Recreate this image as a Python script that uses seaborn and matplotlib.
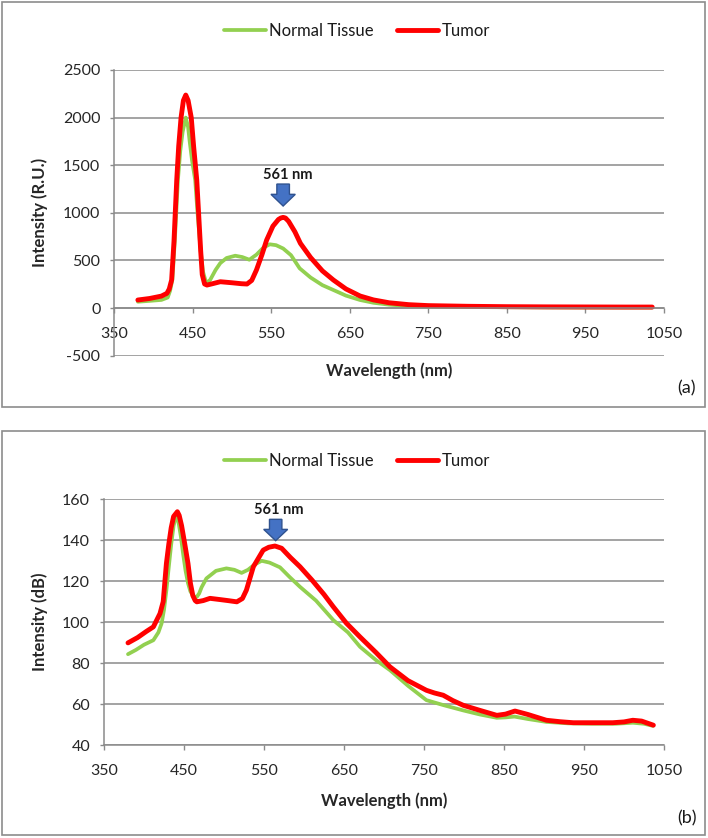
#!/usr/bin/env python3
"""
Recreate the two-panel fluorescence spectrum figure (linear and dB intensity)
"""

import matplotlib
matplotlib.use("Agg")
import matplotlib.pyplot as plt
from matplotlib.patches import Rectangle, FancyArrow
import seaborn as sns

# ---- data ----
SERIES_NAMES = ["Normal Tissue", "Tumor"]
PEAK_LABEL = "561 nm"

# panel (a): intensity in relative units
normal_a_wl = [380, 395, 410, 418, 421, 424, 427, 431, 434, 437, 441, 444, 446, 449,
               453, 456, 460, 463, 467, 472, 479, 485, 493, 504, 513, 522, 531, 540,
               548, 556, 565, 575, 586, 600, 615, 629, 645, 663, 680, 700, 725, 750,
               800, 850, 900, 950, 1000, 1035]
normal_a_val = [66, 75, 85, 110, 180, 300, 700, 1345, 1650, 1850, 2000, 1900, 1750, 1550,
                1345, 1000, 600, 380, 262, 294, 400, 472, 525, 549, 535, 507, 560, 635,
                669, 660, 625, 555, 417, 320, 240, 189, 130, 84, 55, 35, 22, 15,
                10, 8, 6, 5, 5, 5]

tumor_a_wl = [380, 395, 410, 417, 420, 423, 426, 429.5, 432, 435, 438, 441, 444, 448,
              451, 455, 458, 460, 462, 465, 468, 475, 485, 500, 512, 519, 525, 531,
              538, 544, 552, 559, 562, 565, 568, 572, 580, 587, 600, 615, 629, 645,
              663, 680, 700, 725, 750, 800, 850, 900, 950, 1000, 1035]
tumor_a_val = [84, 100, 125, 154, 200, 294, 700, 1345, 1700, 2000, 2180, 2237, 2180, 2000,
               1700, 1345, 900, 600, 350, 252, 241, 255, 276, 265, 255, 252, 290, 399,
               560, 714, 860, 930, 945, 952, 945, 910, 800, 679, 530, 390, 294, 200,
               126, 85, 55, 35, 25, 18, 14, 12, 11, 10, 10]

# panel (b): intensity in dB
normal_b_wl = [380, 390, 400, 411.7, 418, 422, 425, 428, 431, 434, 437, 440, 443, 446,
               449, 452, 455, 458, 462, 466, 469, 472, 478, 490, 503, 513, 522, 530,
               538, 547, 557, 570, 582, 595, 615, 636.6, 655, 670, 690, 707.5, 730, 753,
               775, 799, 820, 841, 852, 863, 880, 903, 930, 960, 990, 1011, 1025, 1036]
normal_b_val = [84.4, 86.5, 89, 91.2, 95, 99.4, 106, 115.6, 127, 138, 147, 151.5, 149, 142,
                133, 125, 119, 115, 112.5, 112.3, 114, 117, 121.3, 125, 126.2, 125.5, 124, 125.5,
                128, 129.9, 129, 126.7, 122, 117.2, 110.5, 101, 95, 88, 81.5, 76.6, 69, 62,
                59.5, 57, 55, 53.4, 53.6, 54, 52.8, 51.4, 50.7, 50.5, 50.5, 51, 50.5, 49.5]

tumor_b_wl = [380, 392, 403, 411.7, 420, 424, 428, 431, 434, 437, 441.7, 444, 447, 451,
              455, 458, 461, 464, 466, 474, 482.5, 495, 505, 516, 523, 528, 536.7, 549,
              556, 563.7, 572, 583, 595, 610, 625, 636.6, 653, 670, 690, 707.5, 730, 753,
              763, 774, 786, 799, 820, 841, 852, 863.7, 880, 903, 920, 936.6, 960, 986,
              1000, 1011, 1022, 1036.7]
tumor_b_val = [89.9, 92.5, 95.5, 97.7, 104.2, 110, 128.6, 138, 146, 151.5, 153.8, 152, 147, 138,
               128.6, 119, 113, 110.5, 109.9, 110.5, 111.6, 111, 110.5, 109.9, 111.5, 115.6, 127, 135.1,
               136.5, 137.1, 136, 131.5, 127, 120.5, 113.5, 107.5, 99.5, 92.8, 85.2, 78.2, 71.5, 66.8,
               65.5, 64.4, 61.8, 59.5, 57, 54.6, 55.2, 56.7, 55, 52.2, 51.5, 51, 51, 51,
               51.4, 52.2, 51.8, 49.8]

x_ticks = [350, 450, 550, 650, 750, 850, 950, 1050]
y_ticks_a = [-500, 0, 500, 1000, 1500, 2000, 2500]
y_ticks_b = [40, 60, 80, 100, 120, 140, 160]

GREEN = "#92D050"
RED = "#FF0000"
GRID = "#8A8A8A"
ARROW_FACE = "#4472C4"
ARROW_EDGE = "#2F528F"

sns.set_style("white")
plt.rcParams["font.family"] = ["Lato", "DejaVu Sans"]
plt.rcParams["text.color"] = "#1a1a1a"
plt.rcParams["axes.unicode_minus"] = False

W, H = 708, 838
fig = plt.figure(figsize=(W / 100, H / 100), dpi=100)


def px(x0, y0, x1, y1):
    """pixel box (top-left origin) -> figure fraction rect"""
    return [x0 / W, 1 - y1 / H, (x1 - x0) / W, (y1 - y0) / H]


def style_axes(ax, yticks, xaxis_at):
    ax.set_xlim(350, 1050)
    ax.set_ylim(yticks[0], yticks[-1])
    ax.set_xticks(x_ticks)
    ax.set_yticks(yticks)
    for s in ["top", "right"]:
        ax.spines[s].set_visible(False)
    ax.spines["left"].set_color(GRID)
    ax.spines["left"].set_linewidth(1.1)
    ax.spines["bottom"].set_color(GRID)
    ax.spines["bottom"].set_linewidth(1.1)
    ax.spines["bottom"].set_position(("data", xaxis_at))
    ax.yaxis.grid(True, color=GRID, lw=1.1)
    ax.set_axisbelow(True)
    ax.tick_params(axis="x", direction="out", length=3.5, width=1, color=GRID,
                   labelsize=11.5, pad=10, bottom=True)
    ax.tick_params(axis="y", direction="out", length=3, width=1, color=GRID,
                   labelsize=11.5, pad=7, left=True)


def draw_panel(ax, g_wl, g_val, r_wl, r_val, yticks, xaxis_at):
    line_kw = dict(solid_joinstyle="round", solid_capstyle="round")
    sns.lineplot(x=g_wl, y=g_val, ax=ax, color=GREEN, lw=2.7, label=SERIES_NAMES[0], **line_kw)
    sns.lineplot(x=r_wl, y=r_val, ax=ax, color=RED, lw=3.5, label=SERIES_NAMES[1], **line_kw)
    style_axes(ax, yticks, xaxis_at)
    handles, labels = ax.get_legend_handles_labels()
    ax.get_legend().remove()
    return handles, labels


# ---- panel (a) ----
ax1 = fig.add_axes(px(114.3, 70, 664, 355.6))
h, l = draw_panel(ax1, normal_a_wl, normal_a_val, tumor_a_wl, tumor_a_val, y_ticks_a, 0)
ax1.set_ylabel("Intensity (R.U.)", fontsize=12, fontweight="bold")
ax1.set_xlabel("Wavelength (nm)", fontsize=12, fontweight="bold")
ax1.yaxis.set_label_coords(-0.12, 0.5)
ax1.xaxis.set_label_coords(0.5, -0.025)
ax1.add_patch(FancyArrow(565, 1302, 0, -231, width=16, head_width=31, head_length=123,
                         length_includes_head=True, facecolor=ARROW_FACE,
                         edgecolor=ARROW_EDGE, lw=1, zorder=5))
ax1.text(571, 1393, PEAK_LABEL, ha="center", va="center", fontsize=10.5, fontweight="bold")
fig.legend(h, l, loc="center", bbox_to_anchor=(357 / W, 1 - 31 / H), ncol=2, frameon=False,
           fontsize=12, handlelength=2.5, handletextpad=0.2, columnspacing=1.4)
fig.text(687 / W, 1 - 388 / H, "(a)", ha="center", va="center", fontsize=13)

# ---- panel (b) ----
ax2 = fig.add_axes(px(104, 499, 664, 745.3))
h, l = draw_panel(ax2, normal_b_wl, normal_b_val, tumor_b_wl, tumor_b_val, y_ticks_b, 40)
ax2.set_ylabel("Intensity (dB)", fontsize=12, fontweight="bold")
ax2.set_xlabel("Wavelength (nm)", fontsize=12, fontweight="bold")
ax2.yaxis.set_label_coords(-0.1, 0.5)
ax2.xaxis.set_label_coords(0.5, -0.19)
ax2.add_patch(FancyArrow(564.6, 150.1, 0, -10.4, width=15.5, head_width=30, head_length=5.5,
                         length_includes_head=True, facecolor=ARROW_FACE,
                         edgecolor=ARROW_EDGE, lw=1, zorder=5))
ax2.text(568.75, 154.4, PEAK_LABEL, ha="center", va="center", fontsize=10.5, fontweight="bold")
fig.legend(h, l, loc="center", bbox_to_anchor=(357 / W, 1 - 460.7 / H), ncol=2, frameon=False,
           fontsize=12, handlelength=2.5, handletextpad=0.2, columnspacing=1.4)
fig.text(687 / W, 1 - 818 / H, "(b)", ha="center", va="center", fontsize=13)

# panel frames
for y0, y1 in [(2, 407), (430.7, 835)]:
    fig.add_artist(Rectangle((2 / W, 1 - y1 / H), 703 / W, (y1 - y0) / H,
                             transform=fig.transFigure, fill=False,
                             edgecolor="#8C8C8C", lw=1.2))

fig.savefig("out.png", dpi=100)
plt.close(fig)
print("saved out.png")
